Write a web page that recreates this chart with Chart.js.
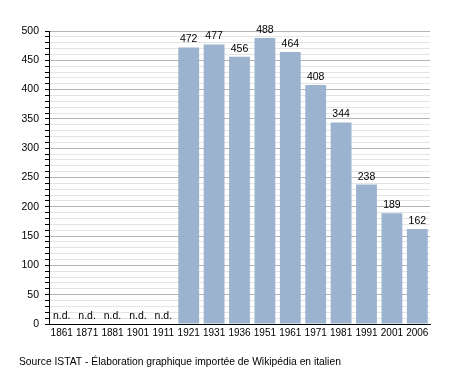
<!DOCTYPE html>
<html><head><meta charset="utf-8">
<script src="https://cdn.jsdelivr.net/npm/chart.js@4"></script>
<style>html,body{margin:0;padding:0;background:#fff}#w{width:458px;height:373px}</style>
</head><body><div id="w"><canvas id="c"></canvas></div>
<script>
const years = ["1861","1871","1881","1901","1911","1921","1931","1936","1951","1961","1971","1981","1991","2001","2006"];
const population = [null,null,null,null,null,472,477,456,488,464,408,344,238,189,162];
const missingLabel = "n.d.";
const footerText = "Source ISTAT - Élaboration graphique importée de Wikipédia en italien";
const FONT = "'Liberation Sans', Arial, sans-serif";

const labelsPlugin = {
  id: 'labels',
  afterDatasetsDraw(chart) {
    const ctx = chart.ctx;
    const meta = chart.getDatasetMeta(0);
    const y = chart.scales.y;
    ctx.save();
    ctx.font = "10.5px " + FONT;
    ctx.fillStyle = "#000";
    ctx.textAlign = "center";
    ctx.textBaseline = "alphabetic";
    meta.data.forEach((bar, i) => {
      const v = population[i];
      if (v === null) {
        ctx.fillText(missingLabel, bar.x, y.getPixelForValue(0) - 5);
      } else {
        ctx.fillText(String(v), bar.x, bar.y - 5);
      }
    });
    ctx.restore();
  },
  afterDraw(chart) {
    const ctx = chart.ctx;
    ctx.save();
    ctx.font = "10.3px " + FONT;
    ctx.fillStyle = "#000";
    ctx.textAlign = "left";
    ctx.textBaseline = "middle";
    ctx.fillText(footerText, 19, 362);
    ctx.restore();
  }
};

new Chart(document.getElementById('c'), {
  type: 'bar',
  data: { labels: years, datasets: [{ data: population, backgroundColor: '#9bb3cf', categoryPercentage: 1, barPercentage: 0.82 }] },
  options: {
    responsive: true, maintainAspectRatio: false, animation: false,
    layout: { padding: { top: 31, right: 28, bottom: 0, left: 0 } },
    plugins: { legend: { display: false }, tooltip: { enabled: false } },
    scales: {
      x: {
        grid: { display: false, drawTicks: false },
        border: { color: '#000', width: 1 },
        ticks: { color: '#000', font: { family: FONT, size: 10 }, padding: 3, maxRotation: 0, autoSkip: false },
        afterFit(s) { s.height = 49; }
      },
      y: {
        min: 0, max: 500,
        grid: {
          color: (c) => (c.tick && c.tick.value % 50 === 0) ? '#b4b4b4' : '#e4e4e4',
          tickColor: '#000', tickLength: 4
        },
        border: { color: '#000', width: 1 },
        ticks: {
          stepSize: 10, autoSkip: false, color: '#000', padding: 6,
          font: { family: FONT, size: 10.5 },
          callback: (v) => (v % 50 === 0) ? String(v) : ''
        },
        afterFit(s) { s.width = 49; }
      }
    }
  },
  plugins: [labelsPlugin]
});
</script></body></html>
